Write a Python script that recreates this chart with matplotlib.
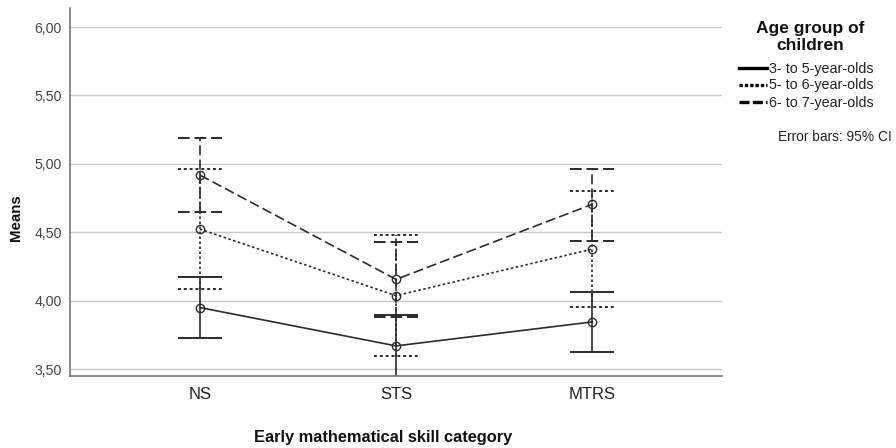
import matplotlib
matplotlib.use("Agg")
import matplotlib.pyplot as plt
from matplotlib.lines import Line2D
from matplotlib.ticker import FuncFormatter

plt.rcParams['font.family'] = ['Liberation Sans', 'DejaVu Sans']

categories = ["NS", "STS", "MTRS"]
series_names = ["3- to 5-year-olds", "5- to 6-year-olds", "6- to 7-year-olds"]
means_3_5 = [3.95, 3.67, 3.845]
ci_low_3_5 = [3.725, 3.445, 3.628]
ci_high_3_5 = [4.170, 3.893, 4.062]
means_5_6 = [4.523, 4.037, 4.377]
ci_low_5_6 = [4.083, 3.596, 3.955]
ci_high_5_6 = [4.962, 4.482, 4.803]
means_6_7 = [4.918, 4.156, 4.704]
ci_low_6_7 = [4.645, 3.884, 4.436]
ci_high_6_7 = [5.189, 4.427, 4.962]
yticks = [3.5, 4.0, 4.5, 5.0, 5.5, 6.0]

means = [means_3_5, means_5_6, means_6_7]
lows = [ci_low_3_5, ci_low_5_6, ci_low_6_7]
highs = [ci_high_3_5, ci_high_5_6, ci_high_6_7]
styles = ['-', (0, (1.5, 1.5)), (0, (6, 2.5))]
col = '#2b2b2b'

W, H = 896, 448
fig = plt.figure(figsize=(W / 100, H / 100), dpi=100)
ax = fig.add_axes([70/W, 1-376/H, (722-70)/W, (376-8)/H])
x = list(range(len(categories)))
cap = 0.112
for m, lo, hi, ls in zip(means, lows, highs, styles):
    ax.plot(x, m, linestyle=ls, color=col, lw=1.2, marker='o', ms=6,
            mfc='none', mec=col, mew=1.0, zorder=3)
    ax.vlines(x, lo, hi, colors=col, linestyles=ls, lw=1.2, zorder=2)
    for xi, l, h in zip(x, lo, hi):
        ax.hlines([l, h], xi - cap, xi + cap, colors=col, linestyles=ls, lw=1.4, zorder=2)

ax.set_xlim(-0.663, 2.663)
ax.set_ylim(3.45, 6.139)
ax.set_yticks(yticks)
ax.yaxis.set_major_formatter(FuncFormatter(lambda v, p: f"{v:.2f}".replace('.', ',')))
ax.set_xticks(x)
ax.set_xticklabels(categories, fontsize=12, color='#222222')
ax.tick_params(axis='y', length=0, labelsize=10.2, labelcolor='#444444', pad=6)
ax.tick_params(axis='x', length=0, pad=8)
ax.grid(axis='y', color='#c8c8c8', lw=1.0)
ax.set_axisbelow(True)
for s in ['top', 'right']:
    ax.spines[s].set_visible(False)
for s in ['left', 'bottom']:
    ax.spines[s].set_color('#777777')
    ax.spines[s].set_linewidth(1.2)

fig.text(383/W, 1-437/H, "Early mathematical skill category", ha='center', va='center',
         fontsize=11.8, fontweight='bold', color='#111111')
fig.text(16/W, 1-218/H, "Means", ha='center', va='center', rotation=90,
         fontsize=10.8, fontweight='bold', color='#111111')

# legend (drawn manually to match layout)
fig.text(810/W, 1-33/H, "Age group of", ha='center', va='baseline', fontsize=12.5,
         fontweight='bold', color='#111111')
fig.text(810/W, 1-49.5/H, "children", ha='center', va='baseline', fontsize=12.5,
         fontweight='bold', color='#111111')
leg_styles = ['-', (0, (1, 0.6)), (0, (3, 1.0))]
for i, (name, ls) in enumerate(zip(series_names, leg_styles)):
    yc = 68 + i * 17
    fig.add_artist(Line2D([739/W, 767/W], [1-yc/H, 1-yc/H], color='black', lw=2.4,
                          linestyle=ls, transform=fig.transFigure))
    fig.text(769/W, 1-(yc + 4.5)/H, name, ha='left', va='baseline', fontsize=10.3,
             color='#222222')
fig.text(778/W, 1-137/H, "Error bars: 95% CI", ha='left', va='center', fontsize=9.9,
         color='#222222')

fig.savefig("out.png", dpi=100)
